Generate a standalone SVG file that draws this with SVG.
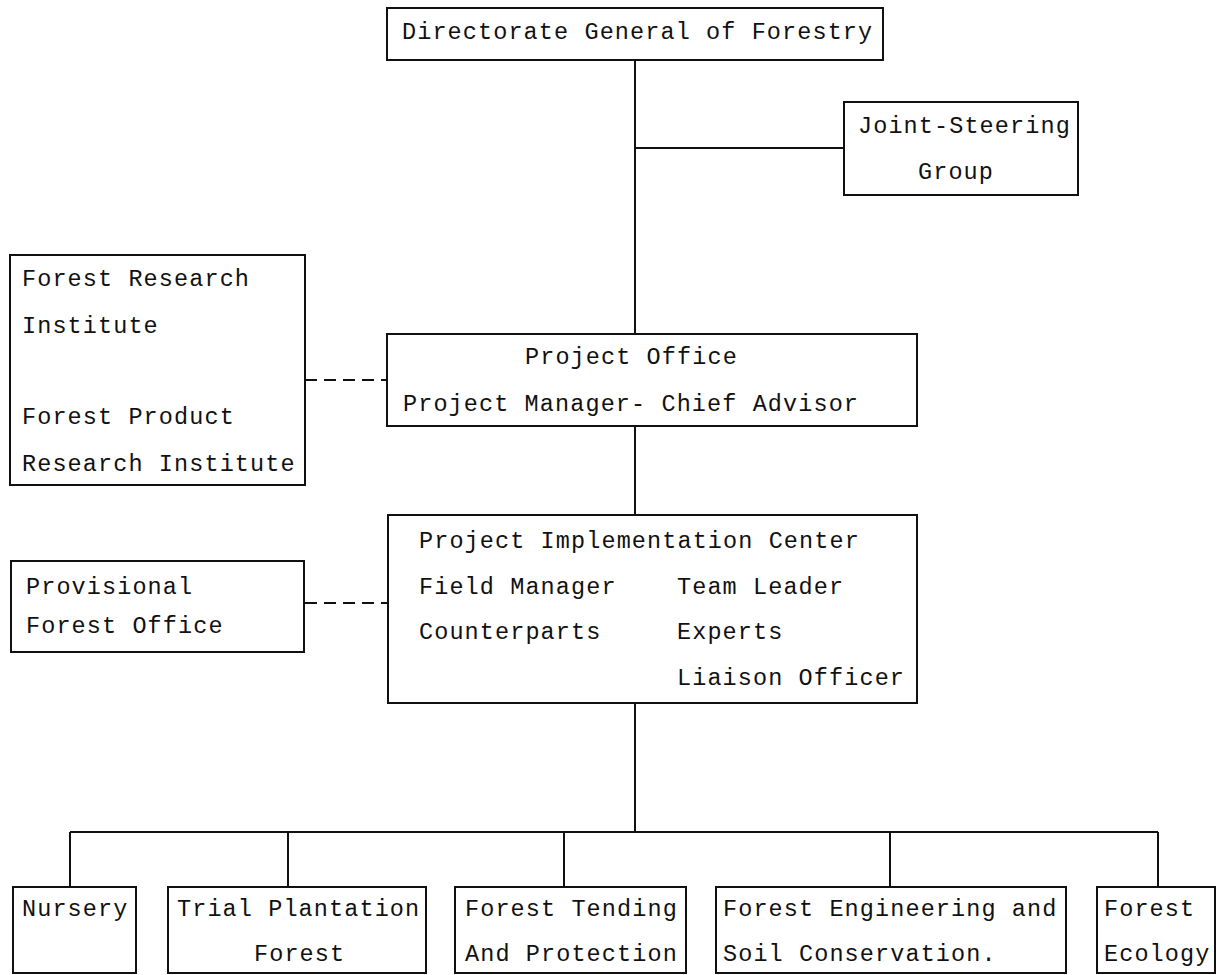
<svg xmlns="http://www.w3.org/2000/svg" width="1218" height="975" viewBox="0 0 1218 975">
<style>
.box{fill:#fff;stroke:#111;stroke-width:2}
.ln{stroke:#111;stroke-width:2;fill:none}
.dash{stroke:#111;stroke-width:2;fill:none;stroke-dasharray:12 7}
text{font-family:"Liberation Mono","DejaVu Sans Mono",monospace;font-size:23.5px;letter-spacing:1.1px;fill:#111}
</style>
<rect width="1218" height="975" fill="#fff"/>
<g id="connectors">
<line class="ln" x1="635" y1="60" x2="635" y2="334"/>
<line class="ln" x1="635" y1="148" x2="844" y2="148"/>
<line class="ln" x1="635" y1="426" x2="635" y2="515"/>
<line class="ln" x1="635" y1="703" x2="635" y2="832"/>
<line class="ln" x1="70" y1="832" x2="1158" y2="832"/>
<line class="ln" x1="70" y1="832" x2="70" y2="887"/>
<line class="ln" x1="288" y1="832" x2="288" y2="887"/>
<line class="ln" x1="564" y1="832" x2="564" y2="887"/>
<line class="ln" x1="890" y1="832" x2="890" y2="887"/>
<line class="ln" x1="1158" y1="832" x2="1158" y2="887"/>
<line class="dash" x1="305" y1="380" x2="387" y2="380"/>
<line class="dash" x1="305" y1="603" x2="388" y2="603"/>
</g>
<g id="dgf">
<rect class="box" x="387" y="8" width="496" height="52"/>
<text x="402" y="39">Directorate General of Forestry</text>
</g>
<g id="jsg">
<rect class="box" x="844" y="102" width="234" height="93"/>
<text x="858" y="133">Joint-Steering</text>
<text x="918" y="179">Group</text>
</g>
<g id="fri">
<rect class="box" x="10" y="255" width="295" height="230"/>
<text x="22" y="286">Forest Research</text>
<text x="22" y="333">Institute</text>
<text x="22" y="424">Forest Product</text>
<text x="22" y="471">Research Institute</text>
</g>
<g id="po">
<rect class="box" x="387" y="334" width="530" height="92"/>
<text x="525" y="364">Project Office</text>
<text x="403" y="411">Project Manager- Chief Advisor</text>
</g>
<g id="pfo">
<rect class="box" x="11" y="561" width="293" height="91"/>
<text x="26" y="594">Provisional</text>
<text x="26" y="633">Forest Office</text>
</g>
<g id="pic">
<rect class="box" x="388" y="515" width="529" height="188"/>
<text x="419" y="548">Project Implementation Center</text>
<text x="419" y="594">Field Manager</text>
<text x="677" y="594">Team Leader</text>
<text x="419" y="639">Counterparts</text>
<text x="677" y="639">Experts</text>
<text x="677" y="685">Liaison Officer</text>
</g>
<g id="nursery">
<rect class="box" x="13" y="887" width="123" height="86"/>
<text x="22" y="916">Nursery</text>
</g>
<g id="trial">
<rect class="box" x="168" y="887" width="258" height="86"/>
<text x="177" y="916">Trial Plantation</text>
<text x="254" y="961">Forest</text>
</g>
<g id="tending">
<rect class="box" x="455" y="887" width="231" height="86"/>
<text x="465" y="916">Forest Tending</text>
<text x="465" y="961">And Protection</text>
</g>
<g id="engineering">
<rect class="box" x="716" y="887" width="350" height="86"/>
<text x="723" y="916">Forest Engineering and</text>
<text x="723" y="961">Soil Conservation.</text>
</g>
<g id="ecology">
<rect class="box" x="1097" y="887" width="118" height="86"/>
<text x="1104" y="916">Forest</text>
<text x="1104" y="961">Ecology</text>
</g>
</svg>
